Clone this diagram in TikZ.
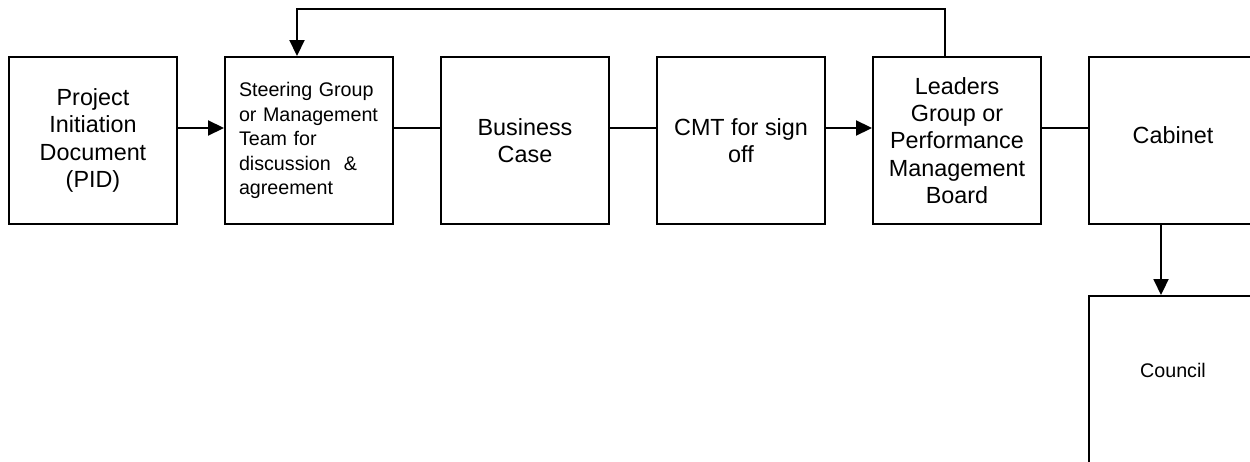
\documentclass[tikz,border=0pt]{standalone}
\usepackage{fontspec}
\setmainfont{Liberation Sans}
\usetikzlibrary{arrows.meta}

\begin{document}
\begin{tikzpicture}[
    every node/.style={align=center},
    stage/.style={draw, line width=1.1pt, minimum width=3.36cm, minimum height=3.34cm,
        inner sep=0pt, font=\fontsize{13.3}{15.5}\selectfont},
    flow/.style={line width=1.1pt},
    flowarrow/.style={line width=1.1pt, -{Triangle[length=0.32cm, width=0.3cm]}},
]

% Page area (the right column runs off the edge)
\clip (0,0) rectangle (25,-9.24);

% Y coordinates
\def\rowy{-2.81}
\def\councily{-7.59}
\def\loopy{-0.18}

% X positions
\def\xa{1.86}
\def\xb{6.18}
\def\xc{10.5}
\def\xd{14.82}
\def\xe{19.14}
\def\xf{23.46}

% Main row
\node[stage] (pid) at (\xa, \rowy) {Project\\Initiation\\Document\\(PID)};

\node[stage, align=left, font=\fontsize{11.2}{13.9}\selectfont,
    text width=2.8cm, inner xsep=0.28cm] (steering) at (\xb, \rowy)
    {Steering Group\\or Management\\Team for\\discussion~~\&\\agreement};

\node[stage] (business) at (\xc, \rowy) {Business\\Case};

\node[stage] (cmt) at (\xd, \rowy) {CMT for sign\\off};

\node[stage] (leaders) at (\xe, \rowy) {Leaders\\Group or\\Performance\\Management\\Board};

\node[stage] (cabinet) at (\xf, \rowy) {\raisebox{0.2cm}{Cabinet}};

% Last step below Cabinet
\node[stage, font=\fontsize{11.2}{13.9}\selectfont] (council) at (\xf, \councily) {\raisebox{0.35cm}{Council}};

% Links along the row
\draw[flowarrow] ([yshift=0.25cm]pid.east) -- ([yshift=0.25cm]steering.west);
\draw[flow] ([yshift=0.25cm]steering.east) -- ([yshift=0.25cm]business.west);
\draw[flow] ([yshift=0.25cm]business.east) -- ([yshift=0.25cm]cmt.west);
\draw[flowarrow] ([yshift=0.25cm]cmt.east) -- ([yshift=0.25cm]leaders.west);
\draw[flow] ([yshift=0.25cm]leaders.east) -- ([yshift=0.25cm]cabinet.west);

% Cabinet down to Council
\draw[flowarrow] ([xshift=-0.24cm]cabinet.south) -- ([xshift=-0.24cm]council.north);

% Loop back from Leaders to Steering Group
\coordinate (loopr) at ([xshift=-0.24cm]leaders.north |- 0,\loopy);
\coordinate (loopl) at ([xshift=-0.24cm]steering.north |- 0,\loopy);
\draw[flowarrow] ([xshift=-0.24cm]leaders.north) -- (loopr) -- (loopl)
    -- ([xshift=-0.24cm]steering.north);

\end{tikzpicture}
\end{document}
